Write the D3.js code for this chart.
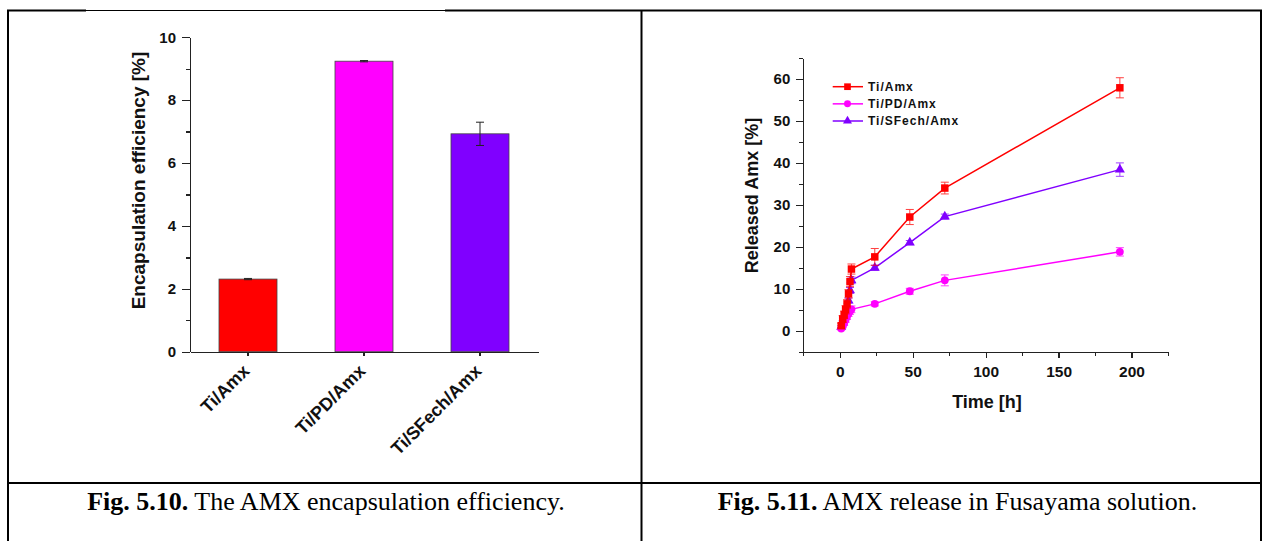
<!DOCTYPE html>
<meta charset="utf-8">
<script src="https://cdn.jsdelivr.net/npm/d3@7"></script>
<style>
body { margin: 0; background: #fff; }
svg { display: block; }
.axis path, .axis line { stroke: #222; stroke-width: 1.3px; shape-rendering: crispEdges; }
.axis text { font-family: "Liberation Sans", Arial, sans-serif; font-weight: bold; fill: #111; }
.title { font-family: "Liberation Sans", Arial, sans-serif; font-weight: bold; fill: #111; }
.caption { font-family: "Liberation Serif", "Times New Roman", serif; fill: #000; }
.legend text { font-family: "Liberation Sans", Arial, sans-serif; font-weight: bold; font-size: 12px; letter-spacing: 1px; fill: #111; }
</style>
<body>
<div id="chart"></div>
</body>
<script>
// --- Fig 5.10 data
var samples = ["Ti/Amx", "Ti/PD/Amx", "Ti/SFech/Amx"];
var efficiency = [2.31, 9.24, 6.93];
var efficiencyErr = [0.02, 0.02, 0.37];
var barColors = ["#ff0000", "#ff00ff", "#8000ff"];
var effTicks = [0, 2, 4, 6, 8, 10];

// --- Fig 5.11 data
var hours = [1, 2, 3, 4, 5, 6, 7, 8, 24, 48, 72, 192];
var relTiAmx = [1.2, 2.8, 3.8, 5.0, 6.4, 8.8, 11.7, 14.7, 17.6, 27.1, 34.0, 57.9];
var errTiAmx = [0.6, 0.8, 0.9, 1.0, 1.0, 1.0, 1.2, 1.2, 2.0, 1.8, 1.4, 2.4];
var relTiPD = [0.5, 1.1, 1.8, 2.6, 3.4, 4.1, 4.7, 5.1, 6.4, 9.4, 12.0, 18.8];
var errTiPD = [0.3, 0.4, 0.5, 0.6, 0.7, 0.7, 0.8, 0.8, 0.5, 0.7, 1.3, 1.0];
var relTiSF = [0.9, 2.0, 3.0, 4.0, 5.2, 7.2, 9.6, 12.0, 15.0, 21.0, 27.2, 38.4];
var errTiSF = [0.3, 0.4, 0.4, 0.5, 0.5, 0.6, 0.7, 0.8, 0.6, 0.5, 0.6, 1.6];
var seriesNames = ["Ti/Amx", "Ti/PD/Amx", "Ti/SFech/Amx"];
var timeTicks = [0, 50, 100, 150, 200];
var releaseTicks = [0, 10, 20, 30, 40, 50, 60];

var W = 1263, H = 541;
var svg = d3.select("#chart").append("svg").attr("width", W).attr("height", H);

// table frame
var frame = svg.append("g").attr("stroke", "#000").attr("fill", "none");
frame.append("line").attr("x1", 7).attr("x2", 86).attr("y1", 10.5).attr("y2", 10.5).attr("stroke-width", 2);
frame.append("line").attr("x1", 86).attr("x2", 445).attr("y1", 10.5).attr("y2", 10.5).attr("stroke-width", 1);
frame.append("line").attr("x1", 445).attr("x2", 1262).attr("y1", 10.5).attr("y2", 10.5).attr("stroke-width", 2);
frame.append("line").attr("x1", 8).attr("x2", 8).attr("y1", 10).attr("y2", H).attr("stroke-width", 2);
frame.append("line").attr("x1", 641.5).attr("x2", 641.5).attr("y1", 10).attr("y2", H).attr("stroke-width", 2);
frame.append("line").attr("x1", 1261).attr("x2", 1261).attr("y1", 10).attr("y2", H).attr("stroke-width", 2);
frame.append("line").attr("x1", 7).attr("x2", 1262).attr("y1", 483).attr("y2", 483).attr("stroke-width", 2);

// ================= bar chart =================
var x1 = d3.scaleBand().domain(samples).range([190, 538]).padding(0.5).paddingOuter(0.25);
var y1 = d3.scaleLinear().domain([0, 10]).range([351.7, 37.3]);

var minor1 = d3.range(1, 10, 2);
svg.append("g").attr("class", "axis")
    .attr("transform", "translate(190,0)")
    .call(d3.axisLeft(y1).tickValues(minor1).tickSize(4).tickFormat(""))
    .select(".domain").remove();
svg.append("g").attr("class", "axis")
    .attr("transform", "translate(190,0)")
    .call(d3.axisLeft(y1).tickValues(effTicks).tickSize(8).tickSizeOuter(0).tickPadding(6))
    .selectAll("text").style("font-size", "15px");

var bars = samples.map(function(s, i) { return {name: s, v: efficiency[i], e: efficiencyErr[i], c: barColors[i]}; });

svg.selectAll(".bar")
    .data(bars)
  .enter().append("rect")
    .attr("class", "bar")
    .attr("x", function(d) { return x1(d.name); })
    .attr("width", x1.bandwidth())
    .attr("y", function(d) { return y1(d.v); })
    .attr("height", function(d) { return y1(0) - y1(d.v); })
    .attr("fill", function(d) { return d.c; })
    .attr("stroke", "#444")
    .attr("stroke-width", 0.8);

var eb = svg.selectAll(".ebar").data(bars).enter().append("g").attr("class", "ebar")
    .attr("stroke", "#222").attr("stroke-width", 1);
eb.append("line")
    .attr("x1", function(d) { return x1(d.name) + x1.bandwidth() / 2; })
    .attr("x2", function(d) { return x1(d.name) + x1.bandwidth() / 2; })
    .attr("y1", function(d) { return y1(d.v + d.e); })
    .attr("y2", function(d) { return y1(d.v - d.e); });
eb.append("line")
    .attr("x1", function(d) { return x1(d.name) + x1.bandwidth() / 2 - 4; })
    .attr("x2", function(d) { return x1(d.name) + x1.bandwidth() / 2 + 4; })
    .attr("y1", function(d) { return y1(d.v + d.e); })
    .attr("y2", function(d) { return y1(d.v + d.e); });
eb.append("line")
    .attr("x1", function(d) { return x1(d.name) + x1.bandwidth() / 2 - 4; })
    .attr("x2", function(d) { return x1(d.name) + x1.bandwidth() / 2 + 4; })
    .attr("y1", function(d) { return y1(d.v - d.e); })
    .attr("y2", function(d) { return y1(d.v - d.e); });

var xAx1 = svg.append("g").attr("class", "axis")
    .attr("transform", "translate(0,351.7)")
    .call(d3.axisBottom(x1).tickSize(4).tickSizeOuter(0));
xAx1.selectAll("text")
    .attr("y", 0).attr("dy", "0.35em")
    .attr("transform", "translate(-2,16) rotate(-45)")
    .style("text-anchor", "end")
    .style("font-size", "18px");

svg.append("text").attr("class", "title")
    .attr("transform", "translate(138,180.5) rotate(-90)")
    .attr("text-anchor", "middle").attr("dy", "0.35em")
    .style("font-size", "19px")
    .text("Encapsulation efficiency [%]");

// ================= release chart =================
var x2 = d3.scaleLinear().domain([-25, 225]).range([803.3, 1168]);
var y2 = d3.scaleLinear().domain([-5, 65]).range([351.7, 58]);

svg.append("g").attr("class", "axis")
    .attr("transform", "translate(803.3,0)")
    .call(d3.axisLeft(y2).tickValues(d3.range(-5, 70, 10)).tickSize(4).tickFormat(""))
    .select(".domain").remove();
svg.append("g").attr("class", "axis")
    .attr("transform", "translate(803.3,0)")
    .call(d3.axisLeft(y2).tickValues(releaseTicks).tickSize(7).tickSizeOuter(0).tickPadding(6))
    .selectAll("text").style("font-size", "15px");

svg.append("g").attr("class", "axis")
    .attr("transform", "translate(0,351.7)")
    .call(d3.axisBottom(x2).tickValues(d3.range(-25, 250, 50)).tickSize(4).tickFormat(""))
    .select(".domain").remove();
svg.append("g").attr("class", "axis")
    .attr("transform", "translate(0,351.7)")
    .call(d3.axisBottom(x2).tickValues(timeTicks).tickSize(6).tickSizeOuter(0).tickPadding(8))
    .selectAll("text").style("font-size", "15.5px");

svg.append("text").attr("class", "title")
    .attr("x", 987).attr("y", 408)
    .attr("text-anchor", "middle")
    .style("font-size", "18px")
    .text("Time [h]");
svg.append("text").attr("class", "title")
    .attr("transform", "translate(751.7,195.5) rotate(-90)")
    .attr("text-anchor", "middle").attr("dy", "0.35em")
    .style("font-size", "18px")
    .text("Released Amx [%]");

var series = [
  {name: seriesNames[0], vals: relTiAmx, errs: errTiAmx, color: "#ff0000", sym: d3.symbolSquare, size: 56},
  {name: seriesNames[1], vals: relTiPD, errs: errTiPD, color: "#ff00ff", sym: d3.symbolCircle, size: 48},
  {name: seriesNames[2], vals: relTiSF, errs: errTiSF, color: "#8000ff", sym: d3.symbolTriangle, size: 44}
];

var line = d3.line()
    .x(function(d) { return x2(d.t); })
    .y(function(d) { return y2(d.v); });

// draw back to front: purple, magenta, red on top
[series[2], series[1], series[0]].forEach(function(s) {
  var pts = hours.map(function(t, i) { return {t: t, v: s.vals[i], e: s.errs[i]}; });
  var g = svg.append("g");
  g.append("path").datum(pts)
      .attr("d", line)
      .attr("fill", "none")
      .attr("stroke", s.color)
      .attr("stroke-width", 1.5);
  var err = g.selectAll(".err").data(pts).enter().append("g")
      .attr("stroke", s.color).attr("stroke-width", 1).attr("opacity", 0.75);
  err.append("line")
      .attr("x1", function(d) { return x2(d.t); }).attr("x2", function(d) { return x2(d.t); })
      .attr("y1", function(d) { return y2(d.v + d.e); }).attr("y2", function(d) { return y2(d.v - d.e); });
  err.append("line")
      .attr("x1", function(d) { return x2(d.t) - 4; }).attr("x2", function(d) { return x2(d.t) + 4; })
      .attr("y1", function(d) { return y2(d.v + d.e); }).attr("y2", function(d) { return y2(d.v + d.e); });
  err.append("line")
      .attr("x1", function(d) { return x2(d.t) - 4; }).attr("x2", function(d) { return x2(d.t) + 4; })
      .attr("y1", function(d) { return y2(d.v - d.e); }).attr("y2", function(d) { return y2(d.v - d.e); });
  g.selectAll(".pt").data(pts).enter().append("path")
      .attr("d", d3.symbol().type(s.sym).size(s.size))
      .attr("transform", function(d) { return "translate(" + x2(d.t) + "," + y2(d.v) + ")"; })
      .attr("fill", s.color);
});

// legend
var legend = svg.append("g").attr("class", "legend");
var legY = d3.scalePoint().domain(seriesNames).range([86.7, 121]);
series.forEach(function(s) {
  var y = legY(s.name);
  legend.append("line").attr("x1", 832.7).attr("x2", 863).attr("y1", y).attr("y2", y)
      .attr("stroke", s.color).attr("stroke-width", 1.5);
  legend.append("path").attr("d", d3.symbol().type(s.sym).size(s.size * 0.8))
      .attr("transform", "translate(847.5," + y + ")").attr("fill", s.color);
  legend.append("text").attr("x", 868).attr("y", y).attr("dy", "0.35em").text(s.name);
});

// captions
function caption(cx, bold, rest) {
  var t = svg.append("text").attr("class", "caption")
      .attr("x", cx).attr("y", 510).attr("text-anchor", "middle").style("font-size", "26px");
  t.append("tspan").style("font-weight", "bold").text(bold);
  t.append("tspan").text(rest);
}
caption(326, "Fig. 5.10.", " The AMX encapsulation efficiency.");
caption(957.5, "Fig. 5.11.", " AMX release in Fusayama solution.");
</script>
